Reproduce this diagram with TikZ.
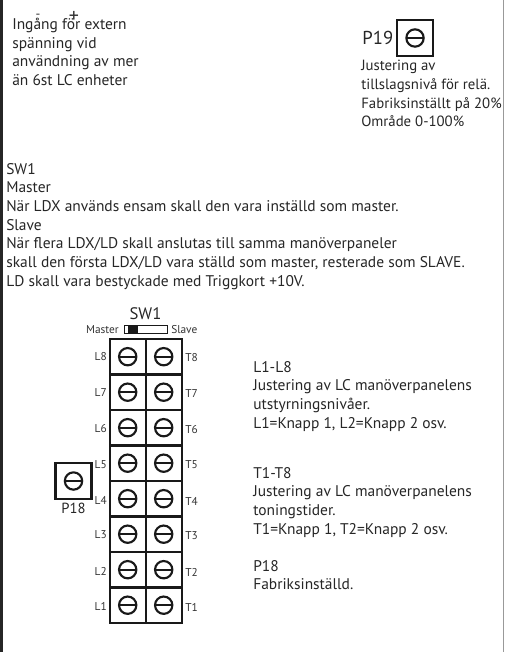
\documentclass[tikz,border=0pt]{standalone}
\usepackage{fontspec}
\setmainfont{PT Sans}
\usetikzlibrary{calc}
\tikzset{
  txt/.style={anchor=north west,inner sep=0pt,align=left,text=black!85,font=\fontsize{11.6}{14}\selectfont},
  tag/.style={inner sep=0pt,text=black!80,font=\fontsize{8.5}{9}\selectfont},
  cell/.style={draw=black!90,line width=1.8pt,minimum width=27pt,minimum height=26.6pt,inner sep=0pt},
  screw/.style={draw=black!90,line width=1.6pt,circle,minimum size=13pt,inner sep=0pt,
    path picture={\draw[black!90,line width=1.6pt] (path picture bounding box.west) -- (path picture bounding box.east);}}
}
\begin{document}
\begin{tikzpicture}[x=0.75pt,y=-0.75pt]
\useasboundingbox (0,0) rectangle (504,652);
\coordinate (lt) at (1.5,0);
\coordinate (lb) at (1.5,652);
\coordinate (rt) at (503.5,0);
\coordinate (rb) at (503.5,652);
\draw[line width=1.6pt,black!85] (lt) -- (lb);
\draw[line width=0.6pt,black!40] (rt) -- (rb);

% top left
\node[txt] (ingang) at (12,18) {Ingång för extern\\spänning vid\\användning av mer\\än 6st LC enheter};
\node[tag,font=\fontsize{10}{12}\selectfont] (minus) at (38,16) {-};
\node[tag,font=\fontsize{15}{15}\selectfont] (plus) at (74,17) {+};

% P19
\node[cell] (p19) at (415,38) {};
\node[screw] (p19s) at (p19) {};
\node[inner sep=0pt,text=black!85,font=\fontsize{14}{16}\selectfont,anchor=east] (p19t) at (393.5,38) {P19};
\node[txt,font=\fontsize{11.1}{14}\selectfont] (p19d) at (361,60) {Justering av\\tillslagsnivå för relä.\\Fabriksinställt på 20\%\\Område 0-100\%};

% SW1 text
\node[txt] (sw1d) at (6,163) {SW1\\Master\\När LDX används ensam skall den vara inställd som master.\\Slave\\När flera LDX/LD skall anslutas till samma manöverpaneler\\skall den första LDX/LD vara ställd som master, resterade som SLAVE.\\LD skall vara bestyckade med Triggkort +10V.};

% switch
\node[inner sep=0pt,text=black!85,font=\fontsize{12.5}{14}\selectfont] (sw1) at (145.5,314) {SW1};
\node[draw=black!90,line width=0.9pt,minimum width=32pt,minimum height=6.5pt,inner sep=0pt] (switch) at (146,329.5) {};
\node[fill=black!90,minimum width=7.5pt,minimum height=6.5pt,inner sep=0pt] (knob) at (133,329.5) {};
\node[tag,anchor=east] (master) at (119,329.5) {Master};
\node[tag,anchor=west] (slave) at (171,329.5) {Slave};

% cells
\node[cell] (l8) at (127.7,356.7) {}; \node[screw] (sl8) at (l8) {};
\node[cell] (t8) at (163.7,356.7) {}; \node[screw] (st8) at (t8) {};
\node[cell] (l7) at (127.7,392.2) {}; \node[screw] (sl7) at (l7) {};
\node[cell] (t7) at (163.7,392.2) {}; \node[screw] (st7) at (t7) {};
\node[cell] (l6) at (127.7,427.7) {}; \node[screw] (sl6) at (l6) {};
\node[cell] (t6) at (163.7,427.7) {}; \node[screw] (st6) at (t6) {};
\node[cell] (l5) at (127.7,463.2) {}; \node[screw] (sl5) at (l5) {};
\node[cell] (t5) at (163.7,463.2) {}; \node[screw] (st5) at (t5) {};
\node[cell] (l4) at (127.7,498.7) {}; \node[screw] (sl4) at (l4) {};
\node[cell] (t4) at (163.7,498.7) {}; \node[screw] (st4) at (t4) {};
\node[cell] (l3) at (127.7,534.2) {}; \node[screw] (sl3) at (l3) {};
\node[cell] (t3) at (163.7,534.2) {}; \node[screw] (st3) at (t3) {};
\node[cell] (l2) at (127.7,569.7) {}; \node[screw] (sl2) at (l2) {};
\node[cell] (t2) at (163.7,569.7) {}; \node[screw] (st2) at (t2) {};
\node[cell] (l1) at (127.7,605.2) {}; \node[screw] (sl1) at (l1) {};
\node[cell] (t1) at (163.7,605.2) {}; \node[screw] (st1) at (t1) {};

% cell tags
\node[tag,anchor=east] (tl8) at (107,357) {L8}; \node[tag,anchor=west] (tt8) at (185,358) {T8};
\node[tag,anchor=east] (tl7) at (107,393) {L7}; \node[tag,anchor=west] (tt7) at (185,394) {T7};
\node[tag,anchor=east] (tl6) at (107,429) {L6}; \node[tag,anchor=west] (tt6) at (185,430) {T6};
\node[tag,anchor=east] (tl5) at (107,465) {L5}; \node[tag,anchor=west] (tt5) at (185,465) {T5};
\node[tag,anchor=east] (tl4) at (107,500) {L4}; \node[tag,anchor=west] (tt4) at (185,501) {T4};
\node[tag,anchor=east] (tl3) at (107,535) {L3}; \node[tag,anchor=west] (tt3) at (185,536) {T3};
\node[tag,anchor=east] (tl2) at (107,571) {L2}; \node[tag,anchor=west] (tt2) at (185,572) {T2};
\node[tag,anchor=east] (tl1) at (107,606) {L1}; \node[tag,anchor=west] (tt1) at (185,607) {T1};

% P18
\node[cell] (p18) at (73.5,481) {};
\node[screw] (p18s) at (p18) {};
\node[inner sep=0pt,text=black!85,font=\fontsize{11}{12}\selectfont] (p18t) at (73.5,508) {P18};

% right text
\node[txt] (ld) at (253,361) {L1-L8\\Justering av LC manöverpanelens\\utstyrningsnivåer.\\L1=Knapp 1, L2=Knapp 2 osv.};
\node[txt] (td) at (253,467) {T1-T8\\Justering av LC manöverpanelens\\toningstider.\\T1=Knapp 1, T2=Knapp 2 osv.};
\node[txt] (pd) at (253,560) {P18\\Fabriksinställd.};
\end{tikzpicture}
\end{document}
